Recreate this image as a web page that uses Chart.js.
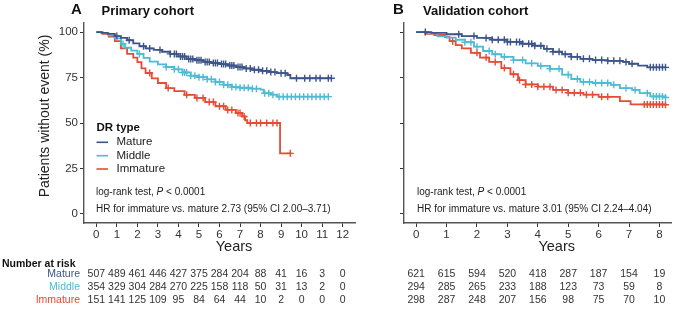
<!DOCTYPE html>
<html>
<head>
<meta charset="utf-8">
<script src="https://cdn.jsdelivr.net/npm/chart.js@4.4.1/dist/chart.umd.min.js"></script>
<style>
  html, body { margin: 0; padding: 0; background: #fff; }
  #wrap { position: relative; width: 677px; height: 319px; overflow: hidden; }
  #chartA { position: absolute; left: 0; top: 0; }
  #chartB { position: absolute; left: 375px; top: 0; }
</style>
</head>
<body>
<div id="wrap">
  <canvas id="chartA" width="375" height="319" style="width:375px;height:319px"></canvas>
  <canvas id="chartB" width="302" height="319" style="width:302px;height:319px"></canvas>
</div>
<script>
const groups = ['Mature', 'Middle', 'Immature'];
const colors = ['#3C5488', '#4DBBD5', '#E64B35'];
const yTicks = [0, 25, 50, 75, 100];
const yearsA = [0, 1, 2, 3, 4, 5, 6, 7, 8, 9, 10, 11, 12];
const yearsB = [0, 1, 2, 3, 4, 5, 6, 7, 8];

// number at risk
const riskA_mature = [507, 489, 461, 446, 427, 375, 284, 204, 88, 41, 16, 3, 0];
const riskA_middle = [354, 329, 304, 284, 270, 225, 158, 118, 50, 31, 13, 2, 0];
const riskA_immature = [151, 141, 125, 109, 95, 84, 64, 44, 10, 2, 0, 0, 0];
const riskB_mature = [621, 615, 594, 520, 418, 287, 187, 154, 19];
const riskB_middle = [294, 285, 265, 233, 188, 123, 73, 59, 8];
const riskB_immature = [298, 287, 248, 207, 156, 98, 75, 70, 10];

// KM steps [years, % without event]
const kmA_mature = [[0,100],[0.25,99.6],[0.55,99.0],[0.9,97.8],[1.2,96.8],[1.5,95.5],[1.8,93.8],[2.1,92.2],[2.4,91.0],[2.8,90.2],[3.2,89.2],[3.6,88.0],[4.0,86.6],[4.4,85.2],[4.8,84.5],[5.2,83.6],[5.6,83.0],[6.0,82.4],[6.4,81.6],[6.8,80.8],[7.2,80.0],[7.6,79.3],[8.0,78.7],[8.4,78.0],[8.8,77.4],[9.3,76.4],[9.45,74.6],[11.45,74.6]];
const kmA_middle = [[0,100],[0.3,99.4],[0.6,98.2],[0.9,96.5],[1.2,93.5],[1.4,91.4],[1.7,89.8],[2.0,88.0],[2.3,85.8],[2.6,83.8],[3.0,82.2],[3.4,80.8],[3.8,79.5],[4.2,77.8],[4.6,76.0],[5.0,75.2],[5.4,74.0],[5.8,72.6],[6.2,71.0],[6.6,69.8],[7.0,69.4],[7.5,68.9],[8.0,68.4],[8.15,66.4],[8.5,65.6],[8.8,64.5],[11.3,64.5]];
const kmA_immature = [[0,100],[0.3,99.0],[0.6,97.5],[0.9,95.0],[1.2,91.0],[1.5,88.0],[1.8,86.0],[2.0,83.5],[2.2,80.0],[2.4,77.5],[2.7,74.5],[3.0,72.0],[3.4,69.2],[3.8,67.5],[4.3,65.5],[4.8,63.8],[5.3,61.5],[5.8,59.2],[6.3,57.2],[6.8,55.5],[7.1,53.6],[7.25,51.5],[7.35,50.0],[8.95,33.3],[9.5,33.3]];
const kmB_mature = [[0,100],[0.5,99.6],[1.0,98.8],[1.5,97.8],[2.0,96.8],[2.5,95.8],[3.0,94.6],[3.5,93.6],[3.9,92.5],[4.2,90.8],[4.5,89.2],[4.8,87.8],[5.1,86.4],[5.4,85.3],[5.8,84.6],[6.3,84.2],[6.8,83.6],[7.0,82.6],[7.3,81.6],[7.6,80.6],[8.2,80.6]];
const kmB_middle = [[0,100],[0.4,99.3],[0.7,97.6],[1.0,97.0],[1.3,95.8],[1.6,94.4],[1.9,92.0],[2.2,89.6],[2.5,87.8],[2.8,86.4],[3.2,84.6],[3.6,82.8],[4.0,81.4],[4.4,79.8],[4.8,76.6],[5.1,74.2],[5.4,72.6],[5.8,72.0],[6.4,71.0],[6.7,69.2],[7.1,68.2],[7.35,66.4],[7.7,64.6],[8.2,64.0]];
const kmB_immature = [[0,100],[0.3,99.0],[0.6,98.4],[0.95,97.2],[1.1,95.0],[1.3,92.8],[1.5,91.0],[1.8,88.6],[2.1,86.0],[2.4,83.6],[2.8,80.2],[3.1,76.8],[3.35,73.6],[3.6,71.2],[4.0,70.0],[4.5,68.2],[5.0,66.6],[5.5,65.6],[6.0,64.4],[6.7,62.0],[7.05,60.2],[8.2,60.0]];

// censoring times (years)
const censA_mature = [1.0,1.6,2.3,2.6,3.1,3.6,3.8,3.9,4.1,4.2,4.3,4.5,4.6,4.7,4.9,5.0,5.1,5.3,5.4,5.5,5.7,5.8,5.9,6.1,6.2,6.3,6.5,6.6,6.7,6.9,7.0,7.1,7.3,7.5,7.7,7.9,8.1,8.3,8.5,8.7,9.0,9.2,9.75,10.15,10.4,10.7,10.9,11.3,11.45];
const censA_middle = [1.3,2.1,3.4,3.8,4.0,4.2,4.3,4.4,4.6,4.8,5.0,5.2,5.4,5.6,5.8,6.0,6.2,6.4,6.6,6.8,7.0,7.2,7.4,7.6,7.8,8.2,8.4,8.6,8.9,9.1,9.3,9.5,9.7,9.9,10.1,10.3,10.5,10.7,10.9,11.1,11.3];
const censA_immature = [2.6,3.5,4.4,4.9,5.2,5.5,5.7,6.0,6.2,6.4,6.6,6.9,7.0,7.2,7.5,7.8,8.0,8.3,8.6,8.8,9.45];
const censB_mature = [0.3,1.4,1.9,2.3,2.5,2.7,2.9,3.0,3.1,3.3,3.4,3.5,3.7,3.8,3.9,4.1,4.3,4.5,4.7,4.9,5.1,5.3,5.5,5.7,5.9,6.1,6.3,6.5,6.7,6.9,7.1,7.7,7.8,7.9,8.0,8.1,8.2];
const censB_middle = [1.6,1.8,2.0,2.4,2.6,2.9,3.2,3.5,3.8,4.1,4.4,4.7,5.0,5.3,5.5,5.7,5.9,6.1,6.3,6.5,6.9,7.2,7.6,7.8,7.9,8.0,8.1,8.2];
const censB_immature = [1.2,2.0,2.3,2.6,2.9,3.2,3.4,3.6,3.8,4.0,4.2,4.4,4.6,4.8,5.0,5.2,5.4,5.6,5.8,6.1,6.3,7.5,7.6,7.7,7.8,7.9,8.0,8.1,8.2];

const FONT = "'Liberation Sans', Arial, sans-serif";
Chart.defaults.font.family = FONT;

function survAt(km, t) {
  let s = km[0][1];
  for (const p of km) {
    if (p[0] <= t) s = p[1];
  }
  return s;
}

function txt(ctx, s, x, y, font, color, align) {
  ctx.font = font;
  ctx.fillStyle = color || '#222';
  ctx.textAlign = align || 'left';
  ctx.textBaseline = 'middle';
  ctx.fillText(s, x, y);
}

// "log-rank test, P < 0.0001" with italic P
function pLine(ctx, x, y) {
  const f = '10px ' + FONT;
  ctx.font = f;
  txt(ctx, 'log-rank test, ', x, y, f);
  let w = ctx.measureText('log-rank test, ').width;
  txt(ctx, 'P', x + w, y, 'italic ' + f);
  ctx.font = 'italic ' + f;
  w += ctx.measureText('P').width;
  txt(ctx, ' < 0.0001', x + w, y, f);
}

function drawTexts(chart, o) {
  const ctx = chart.ctx;
  const xs = chart.scales.x;
  ctx.save();
  txt(ctx, o.letter, o.letterX, 10, 'bold 15px ' + FONT, '#111');
  txt(ctx, o.title, o.titleX, 11, 'bold 13px ' + FONT, '#111');
  txt(ctx, 'Years', o.yearsX, 246.5, '14.5px ' + FONT, '#222', 'center');
  if (o.yTitle) {
    ctx.save();
    ctx.translate(45, 116);
    ctx.rotate(-Math.PI / 2);
    txt(ctx, o.yTitle, 0, 0, '14px ' + FONT, '#222', 'center');
    ctx.restore();
  }
  if (o.legend) {
    txt(ctx, 'DR type', 96.5, 127.5, 'bold 11.5px ' + FONT, '#111');
    [142.3, 155.7, 169].forEach((y, i) => {
      ctx.strokeStyle = colors[i];
      ctx.lineWidth = 1.6;
      ctx.beginPath();
      ctx.moveTo(96.5, y);
      ctx.lineTo(108, y);
      ctx.stroke();
      txt(ctx, groups[i], 116.5, y, '11.5px ' + FONT, '#222');
    });
  }
  pLine(ctx, o.noteX, 192);
  txt(ctx, o.hr, o.noteX, 209.5, '10px ' + FONT, '#222');

  const rowY = [274, 287, 300];
  if (o.riskHead) {
    txt(ctx, 'Number at risk', 2, 264, 'bold 10.5px ' + FONT, '#111');
    groups.forEach((g, i) => txt(ctx, g, 80, rowY[i], '10.5px ' + FONT, colors[i], 'right'));
  }
  o.risk.forEach((row, i) => {
    row.forEach((n, j) => {
      txt(ctx, String(n), xs.getPixelForValue(o.years[j]), rowY[i], '10.5px ' + FONT, '#333', 'center');
    });
  });
  ctx.restore();
}

function buildChart(id, o) {
  const datasets = [];
  o.km.forEach((km, i) => {
    datasets.push({
      label: groups[i],
      data: km.map(p => ({x: p[0], y: p[1]})),
      borderColor: colors[i],
      borderWidth: 1.8,
      stepped: 'before',
      pointRadius: 0,
      fill: false
    });
    datasets.push({
      label: groups[i] + ' censored',
      data: o.cens[i].map(t => ({x: t, y: survAt(km, t)})),
      showLine: false,
      pointStyle: 'cross',
      pointRadius: 3.5,
      borderColor: colors[i],
      borderWidth: 1.4
    });
  });

  return new Chart(document.getElementById(id), {
    type: 'line',
    data: {datasets: datasets},
    options: {
      responsive: false,
      animation: false,
      events: [],
      layout: {padding: {top: 23, bottom: 66, left: 0, right: o.padRight}},
      plugins: {legend: {display: false}, tooltip: {enabled: false}},
      scales: {
        x: {
          type: 'linear',
          min: o.xMin,
          max: o.xMax,
          afterBuildTicks: a => { a.ticks = o.years.map(v => ({value: v})); },
          afterFit: s => { s.height = 30; },
          grid: {drawOnChartArea: false, drawTicks: true, tickLength: 4, color: '#333', lineWidth: 1},
          border: {display: true, color: '#555', width: 1.4},
          ticks: {font: {size: 11.5}, color: '#333', padding: 1, maxRotation: 0, autoSkip: false}
        },
        y: {
          type: 'linear',
          min: -5,
          max: 105,
          afterBuildTicks: a => { a.ticks = yTicks.map(v => ({value: v})); },
          afterFit: s => { s.width = o.yWidth; },
          grid: {drawOnChartArea: false, drawTicks: true, tickLength: 4, color: '#333', lineWidth: 1},
          border: {display: true, color: '#555', width: 1.4},
          ticks: {
            font: {size: 11.5}, color: '#333', padding: 2,
            callback: v => o.yLabels ? String(v) : ''
          }
        }
      }
    },
    plugins: [{id: 'panelText', afterDraw: chart => drawTexts(chart, o)}]
  });
}

buildChart('chartA', {
  km: [kmA_mature, kmA_middle, kmA_immature],
  cens: [censA_mature, censA_middle, censA_immature],
  risk: [riskA_mature, riskA_middle, riskA_immature],
  years: yearsA, xMin: -0.6, xMax: 12.6,
  yWidth: 84, padRight: 20, yLabels: true,
  letter: 'A', letterX: 71, title: 'Primary cohort', titleX: 101.5,
  yearsX: 234, yTitle: 'Patients without event (%)', legend: true,
  noteX: 96, hr: 'HR for immature vs. mature 2.73 (95% CI 2.00\u20133.71)',
  riskHead: true
});

buildChart('chartB', {
  km: [kmB_mature, kmB_middle, kmB_immature],
  cens: [censB_mature, censB_middle, censB_immature],
  risk: [riskB_mature, riskB_middle, riskB_immature],
  years: yearsB, xMin: -0.4, xMax: 8.4,
  yWidth: 29, padRight: 0, yLabels: false,
  letter: 'B', letterX: 18, title: 'Validation cohort', titleX: 48,
  yearsX: 181.7, yTitle: null, legend: false,
  noteX: 42, hr: 'HR for immature vs. mature 3.01 (95% CI 2.24\u20134.04)',
  riskHead: false
});
</script>
</body>
</html>
